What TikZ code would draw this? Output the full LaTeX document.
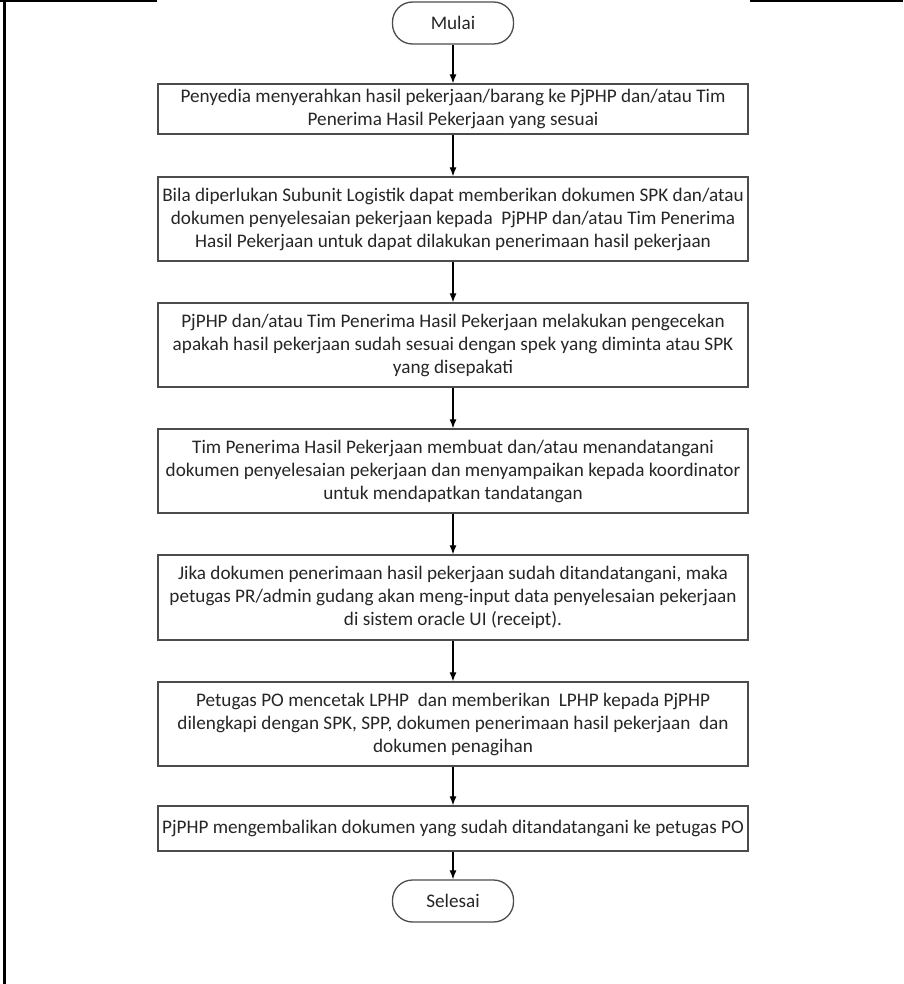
\documentclass[tikz,border=0pt]{standalone}
\usepackage{fontspec}
\setmainfont{Carlito}
\usetikzlibrary{arrows.meta}
\begin{document}
\begin{tikzpicture}[x=1pt,y=-1pt,
  txt/.style={font=\fontsize{19.2}{23}\selectfont, text=black!85},
  procbox/.style={txt, draw=black!70, line width=1.3pt, minimum width=590pt, align=center, inner sep=0pt},
  termbox/.style={txt, draw=black!70, line width=1.3pt, minimum width=121pt, minimum height=42pt, rounded corners=20pt, inner sep=0pt},
  flow/.style={line width=1.2pt, -{Latex[length=9pt,width=7pt]}},
  frame/.style={line width=2.2pt, black}]
\useasboundingbox (0,0) rectangle (903,984);
\coordinate (tl0) at (0,1);
\coordinate (tl1) at (157,1);
\coordinate (tr0) at (750,1);
\coordinate (tr1) at (903,1);
\coordinate (lv0) at (4.5,0);
\coordinate (lv1) at (4.5,984);
\draw[frame] (tl0) -- (tl1);
\draw[frame] (tr0) -- (tr1);
\draw[frame] (lv0) -- (lv1);

\node[termbox] (start) at (453,23) {Mulai};
\node[procbox, minimum height=50pt] (b1) at (453,109) {Penyedia menyerahkan hasil pekerjaan/barang ke PjPHP dan/atau Tim\\Penerima Hasil Pekerjaan yang sesuai};
\node[procbox, minimum height=84pt] (b2) at (453,219) {Bila diperlukan Subunit Logistik dapat memberikan dokumen SPK dan/atau\\dokumen penyelesaian pekerjaan kepada\ \ PjPHP dan/atau Tim Penerima\\Hasil Pekerjaan untuk dapat dilakukan penerimaan hasil pekerjaan};
\node[procbox, minimum height=84pt] (b3) at (453,345) {PjPHP dan/atau Tim Penerima Hasil Pekerjaan melakukan pengecekan\\apakah hasil pekerjaan sudah sesuai dengan spek yang diminta atau SPK\\yang disepakati};
\node[procbox, minimum height=84pt] (b4) at (453,471) {Tim Penerima Hasil Pekerjaan membuat dan/atau menandatangani\\dokumen penyelesaian pekerjaan dan menyampaikan kepada koordinator\\untuk mendapatkan tandatangan};
\node[procbox, minimum height=85pt] (b5) at (453,597.5) {Jika dokumen penerimaan hasil pekerjaan sudah ditandatangani, maka\\petugas PR/admin gudang akan meng-input data penyelesaian pekerjaan\\di sistem oracle UI (receipt).};
\node[procbox, minimum height=84pt] (b6) at (453,724) {Petugas PO mencetak LPHP\ \ dan memberikan\ \ LPHP kepada PjPHP\\dilengkapi dengan SPK, SPP, dokumen penerimaan hasil pekerjaan\ \ dan\\dokumen penagihan};
\node[procbox, minimum height=45pt] (b7) at (453,828.5) {PjPHP mengembalikan dokumen yang sudah ditandatangani ke petugas PO};
\node[termbox] (end) at (453,901) {Selesai};

\draw[flow] (start) -- (b1);
\draw[flow] (b1) -- (b2);
\draw[flow] (b2) -- (b3);
\draw[flow] (b3) -- (b4);
\draw[flow] (b4) -- (b5);
\draw[flow] (b5) -- (b6);
\draw[flow] (b6) -- (b7);
\draw[flow] (b7) -- (end);
\end{tikzpicture}
\end{document}
